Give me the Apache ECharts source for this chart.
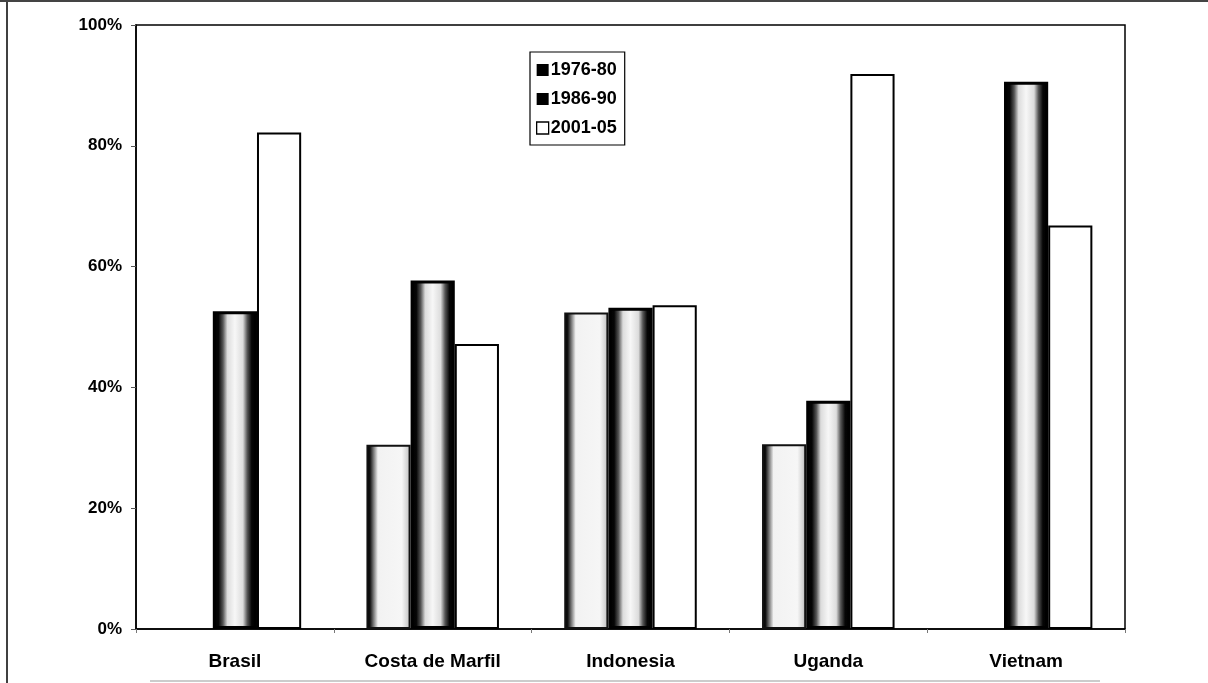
<!DOCTYPE html>
<html>
<head>
<meta charset="utf-8">
<script src="https://cdn.jsdelivr.net/npm/echarts@6/dist/echarts.min.js"></script>
<style>
html,body{margin:0;padding:0;background:#fff;}
#chart{width:1208px;height:683px;}
</style>
</head>
<body>
<div id="chart"></div>
<script>
const categories = ['Brasil', 'Costa de Marfil', 'Indonesia', 'Uganda', 'Vietnam'];
const seriesNames = ['1976-80', '1986-90', '2001-05'];
const values1976 = [null, 30.5, 52.4, 30.6, null];
const values1986 = [52.6, 57.7, 53.2, 37.8, 90.6];
const values2001 = [82.2, 47.2, 53.6, 91.9, 66.8];
const yTicks = [0, 20, 40, 60, 80, 100];

const FONT = '"Liberation Sans", Arial, sans-serif';

const grad1976 = new echarts.graphic.LinearGradient(0, 0, 1, 0, [
  {offset: 0, color: '#000'},
  {offset: 0.08, color: '#111'},
  {offset: 0.16, color: '#777'},
  {offset: 0.26, color: '#f2f2f2'},
  {offset: 0.8, color: '#f6f6f6'},
  {offset: 0.93, color: '#d0d0d0'},
  {offset: 1, color: '#999'}
]);
const grad1986 = new echarts.graphic.LinearGradient(0, 0, 1, 0, [
  {offset: 0, color: '#000'},
  {offset: 0.13, color: '#050505'},
  {offset: 0.23, color: '#555'},
  {offset: 0.33, color: '#dcdcdc'},
  {offset: 0.5, color: '#f7f7f7'},
  {offset: 0.68, color: '#dcdcdc'},
  {offset: 0.78, color: '#555'},
  {offset: 0.88, color: '#050505'},
  {offset: 1, color: '#000'}
]);

const chart = echarts.init(document.getElementById('chart'), null, {renderer: 'canvas'});
chart.setOption({
  backgroundColor: '#fff',
  animation: false,
  grid: {
    left: 136, right: 83, top: 25, bottom: 54,
    show: true, borderColor: '#000', borderWidth: 1.5, backgroundColor: 'transparent'
  },
  legend: {
    orient: 'vertical',
    left: 530, top: 52,
    padding: [9, 8, 8, 6],
    itemGap: 11,
    itemWidth: 12, itemHeight: 12,
    borderColor: '#000', borderWidth: 1.2,
    backgroundColor: '#fff',
    textStyle: {fontFamily: FONT, fontWeight: 'bold', fontSize: 18, color: '#000', padding: [0, 0, 0, -3]},
    data: [
      {name: seriesNames[0], icon: 'rect', itemStyle: {color: '#000', borderWidth: 0}},
      {name: seriesNames[1], icon: 'rect', itemStyle: {color: '#000', borderWidth: 0}},
      {name: seriesNames[2], icon: 'rect', itemStyle: {color: '#fff', borderColor: '#000', borderWidth: 1.3}}
    ]
  },
  xAxis: {
    type: 'category',
    data: categories,
    axisLine: {lineStyle: {color: '#000', width: 1.5}},
    axisTick: {show: true, length: 4, lineStyle: {color: '#777'}},
    axisLabel: {fontFamily: FONT, fontWeight: 'bold', fontSize: 19, color: '#000', margin: 23},
    splitLine: {show: false}
  },
  yAxis: {
    type: 'value',
    min: yTicks[0], max: yTicks[yTicks.length - 1], interval: 20,
    axisLine: {show: true, lineStyle: {color: '#000', width: 1.5}},
    axisTick: {show: true, length: 5, lineStyle: {color: '#555'}},
    axisLabel: {formatter: '{value}%', fontFamily: FONT, fontWeight: 'bold', fontSize: 17, color: '#000', margin: 14},
    splitLine: {show: false}
  },
  series: [
    {
      name: seriesNames[0], type: 'bar', data: values1976,
      barGap: '0%', barCategoryGap: '33%',
      itemStyle: {color: grad1976, borderColor: '#111', borderWidth: 2}
    },
    {
      name: seriesNames[1], type: 'bar', data: values1986,
      barGap: '0%', barCategoryGap: '33%',
      itemStyle: {color: grad1986, borderColor: '#000', borderWidth: 3}
    },
    {
      name: seriesNames[2], type: 'bar', data: values2001,
      barGap: '0%', barCategoryGap: '33%',
      itemStyle: {color: '#fff', borderColor: '#000', borderWidth: 2}
    }
  ],
  graphic: [
    {type: 'line', shape: {x1: 7, y1: 0, x2: 7, y2: 683}, style: {stroke: '#000', lineWidth: 1.5}, silent: true},
    {type: 'line', shape: {x1: 0, y1: 1, x2: 1208, y2: 1}, style: {stroke: '#444', lineWidth: 2}, silent: true},
    {type: 'line', shape: {x1: 150, y1: 681, x2: 1100, y2: 681}, style: {stroke: '#bbb', lineWidth: 1.5}, silent: true}
  ]
});
</script>
</body>
</html>
